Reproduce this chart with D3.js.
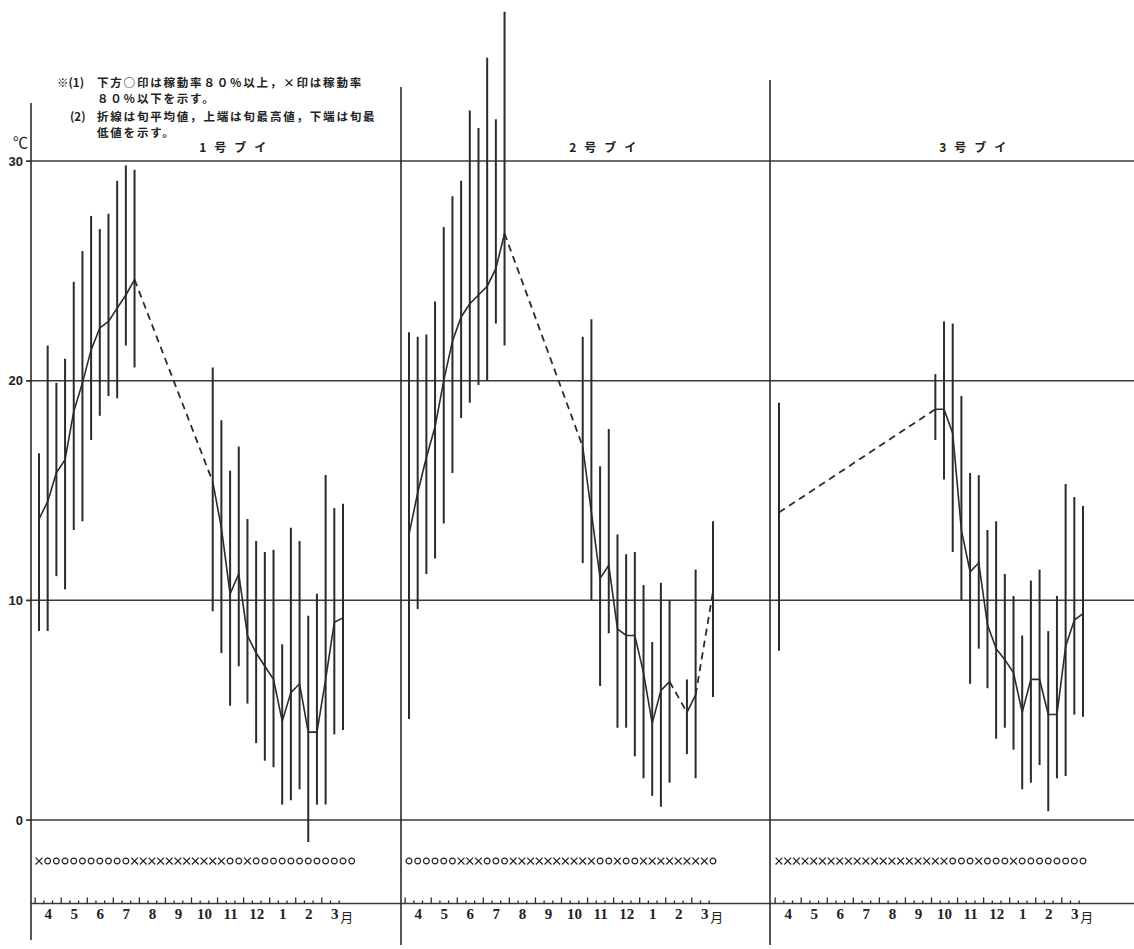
<!DOCTYPE html>
<html>
<head>
<meta charset="utf-8">
<script src="https://cdn.jsdelivr.net/npm/d3@7"></script>
<style>
body { margin: 0; background: #fff; }
svg { display: block; }
</style>
</head>
<body>
<div id="chart"></div>
<script>
var months = ['4', '5', '6', '7', '8', '9', '10', '11', '12', '1', '2', '3'];
var buoyNames = ['1号ブイ', '2号ブイ', '3号ブイ'];
var yTicks = [0, 10, 20, 30];
var N = null;

// 旬最高値 / 旬最低値 / 旬平均値 (4月上旬 .. 3月下旬)
var buoy1Max  = [16.7, 21.6, 19.9, 21.0, 24.5, 25.9, 27.5, 26.9, 27.6, 29.1, 29.8, 29.6, N, N, N, N, N, N, N, N, 20.6, 18.2, 15.9, 17.0, 13.7, 12.7, 12.2, 12.3, 8.0, 13.3, 12.7, 9.3, 10.3, 15.7, 14.2, 14.4];
var buoy1Min  = [8.6, 8.6, 11.1, 10.5, 13.2, 13.6, 17.3, 18.4, 19.3, 19.2, 21.6, 20.6, N, N, N, N, N, N, N, N, 9.5, 7.6, 5.2, 7.0, 5.3, 3.5, 2.7, 2.4, 0.7, 0.9, 1.4, -1.0, 0.7, 0.7, 3.9, 4.1];
var buoy1Mean = [13.7, 14.5, 15.8, 16.4, 18.6, 19.9, 21.4, 22.4, 22.7, 23.3, 23.9, 24.6, N, N, N, N, N, N, N, N, 15.4, 13.3, 10.3, 11.2, 8.4, 7.6, 7.0, 6.4, 4.5, 5.8, 6.2, 4.0, 4.0, 6.4, 9.0, 9.2];
var buoy1Rate = '×○○○○○○○○○○×××××××××××○○×○○○○○○○○○○○○';

var buoy2Max  = [22.2, 22.0, 22.1, 23.6, 27.0, 28.4, 29.1, 32.3, 31.5, 34.7, 31.9, 36.8, N, N, N, N, N, N, N, N, 22.0, 22.8, 16.1, 17.8, 13.0, 12.1, 12.2, 10.7, 8.1, 10.8, 10.0, N, 6.4, 11.4, N, 13.6];
var buoy2Min  = [4.6, 9.6, 11.2, 11.9, 13.5, 15.8, 18.3, 19.0, 19.8, 20.0, 22.6, 21.6, N, N, N, N, N, N, N, N, 11.7, 10.0, 6.1, 8.5, 4.2, 4.2, 2.9, 1.9, 1.1, 0.6, 1.7, N, 3.0, 1.9, N, 5.6];
var buoy2Mean = [13.0, 14.9, 16.5, 17.9, 20.0, 21.8, 22.9, 23.5, 23.9, 24.3, 25.1, 26.7, N, N, N, N, N, N, N, N, 17.0, 14.0, 11.0, 11.6, 8.7, 8.4, 8.4, 6.7, 4.4, 5.9, 6.3, N, 4.9, 5.7, N, 10.4];
var buoy2Rate = '○○○○○○×××○○○××××××××××○○×○○××××××××○';

var buoy3Max  = [19.0, N, N, N, N, N, N, N, N, N, N, N, N, N, N, N, N, N, 20.3, 22.7, 22.6, 19.3, 15.8, 15.7, 13.2, 13.6, 11.2, 10.2, 8.4, 10.9, 11.4, 8.6, 10.2, 15.3, 14.7, 14.3];
var buoy3Min  = [7.7, N, N, N, N, N, N, N, N, N, N, N, N, N, N, N, N, N, 17.3, 15.5, 12.2, 10.0, 6.2, 7.8, 6.0, 3.7, 4.2, 3.2, 1.4, 1.7, 2.5, 0.4, 1.9, 2.0, 4.8, 4.7];
var buoy3Mean = [14.0, N, N, N, N, N, N, N, N, N, N, N, N, N, N, N, N, N, 18.7, 18.7, 17.6, 13.2, 11.3, 11.7, 8.9, 7.8, 7.3, 6.7, 4.9, 6.4, 6.4, 4.8, 4.8, 7.9, 9.1, 9.4];
var buoy3Rate = '××××××××××××××××××××○○○×○○○×○○○○○○○○';

var notes = [
    ['※(1)', '下方○印は稼動率８０％以上，×印は稼動率'],
    ['', '８０％以下を示す。'],
    ['(2)', '折線は旬平均値，上端は旬最高値，下端は旬最'],
    ['', '低値を示す。']
];

var buoys = [
    { name: buoyNames[0], max: buoy1Max, min: buoy1Min, mean: buoy1Mean, rate: buoy1Rate },
    { name: buoyNames[1], max: buoy2Max, min: buoy2Min, mean: buoy2Mean, rate: buoy2Rate },
    { name: buoyNames[2], max: buoy3Max, min: buoy3Min, mean: buoy3Mean, rate: buoy3Rate }
];

var width = 1134, height = 949;
var ink = '#2b2b2b';
var jpFont = '"Noto Sans CJK JP", sans-serif';

var svg = d3.select('#chart').append('svg')
    .attr('width', width)
    .attr('height', height);

svg.append('rect').attr('width', width).attr('height', height).attr('fill', '#fff');

var y = d3.scaleLinear().domain([0, 30]).range([820, 161]);
var axisY = y(-3.8), markY = y(-1.87);
var firstBar = [39, 409, 779];

function xScale(p) {
    return d3.scaleLinear().domain([0, 35]).range([firstBar[p], firstBar[p] + 304]);
}

// grid lines across all three panels
svg.append('g').selectAll('line')
    .data(yTicks)
    .enter().append('line')
    .attr('x1', 26).attr('x2', width)
    .attr('y1', function (d) { return y(d); })
    .attr('y2', function (d) { return y(d); })
    .attr('stroke', '#3a3a3a')
    .attr('stroke-width', 1.5);

svg.append('line')
    .attr('x1', 31).attr('x2', width)
    .attr('y1', axisY).attr('y2', axisY)
    .attr('stroke', '#3a3a3a').attr('stroke-width', 1.5);

// left axis and panel dividers
[[31, 103, 940], [401, 87, 945], [770, 80, 945]].forEach(function (v) {
    svg.append('line')
        .attr('x1', v[0]).attr('x2', v[0])
        .attr('y1', v[1]).attr('y2', v[2])
        .attr('stroke', ink).attr('stroke-width', 1.6);
});

var yAxis = svg.append('g')
    .attr('transform', 'translate(31,0)')
    .call(d3.axisLeft(y).tickValues(yTicks).tickSize(4).tickPadding(4));
yAxis.select('.domain').remove();
yAxis.selectAll('line').attr('stroke', ink);
yAxis.selectAll('text')
    .attr('font-family', '"Liberation Sans", sans-serif')
    .attr('font-size', 13)
    .attr('font-weight', 'bold')
    .attr('fill', '#222');

svg.append('text')
    .attr('x', 13).attr('y', 148)
    .attr('font-family', jpFont)
    .attr('font-size', 15)
    .attr('fill', '#222')
    .text('℃');

// notes
var noteG = svg.append('g')
    .attr('font-family', jpFont)
    .attr('font-size', 11.5)
    .attr('font-weight', 'bold')
    .attr('fill', '#222');
var noteY = [87, 103, 121, 137];
notes.forEach(function (n, i) {
    if (n[0]) {
        noteG.append('text')
            .attr('x', n[0] === '※(1)' ? 57 : 70)
            .attr('y', noteY[i])
            .text(n[0]);
    }
    noteG.append('text')
        .attr('x', 97)
        .attr('y', noteY[i])
        .style('letter-spacing', '1.8px')
        .text(n[1]);
});

buoys.forEach(function (b, p) {
    var x = xScale(p);
    var g = svg.append('g');
    var idx = d3.range(36);

    g.append('text')
        .attr('x', x(22.3) + 4)
        .attr('y', 152)
        .attr('text-anchor', 'middle')
        .attr('font-family', jpFont)
        .attr('font-size', 12)
        .attr('font-weight', 'bold')
        .attr('fill', '#222')
        .style('letter-spacing', '8px')
        .text(b.name);

    // max-min bars
    g.selectAll('line.bar')
        .data(idx.filter(function (i) { return b.max[i] !== null; }))
        .enter().append('line')
        .attr('class', 'bar')
        .attr('x1', function (i) { return x(i); })
        .attr('x2', function (i) { return x(i); })
        .attr('y1', function (i) { return y(b.max[i]); })
        .attr('y2', function (i) { return y(b.min[i]); })
        .attr('stroke', ink)
        .attr('stroke-width', 2);

    // mean line, solid where continuous
    var line = d3.line()
        .defined(function (i) { return b.mean[i] !== null; })
        .x(function (i) { return x(i); })
        .y(function (i) { return y(b.mean[i]); });

    g.append('path')
        .datum(idx)
        .attr('d', line)
        .attr('fill', 'none')
        .attr('stroke', ink)
        .attr('stroke-width', 1.6);

    // dashed across missing periods
    var known = idx.filter(function (i) { return b.mean[i] !== null; });
    var gaps = [];
    for (var k = 1; k < known.length; k++) {
        if (known[k] - known[k - 1] > 1) gaps.push([known[k - 1], known[k]]);
    }
    g.selectAll('line.gap')
        .data(gaps)
        .enter().append('line')
        .attr('class', 'gap')
        .attr('x1', function (d) { return x(d[0]); })
        .attr('y1', function (d) { return y(b.mean[d[0]]); })
        .attr('x2', function (d) { return x(d[1]); })
        .attr('y2', function (d) { return y(b.mean[d[1]]); })
        .attr('stroke', ink)
        .attr('stroke-width', 1.8)
        .attr('stroke-dasharray', '7,5');

    // operating-rate marks
    var rate = Array.from(b.rate);
    g.selectAll('path.mark')
        .data(rate)
        .enter().append('path')
        .attr('class', 'mark')
        .attr('transform', function (d, i) { return 'translate(' + x(i) + ',' + markY + ')'; })
        .attr('d', function (d) {
            return d3.symbol(d === '○' ? d3.symbolCircle : d3.symbolTimes, d === '○' ? 26 : 32)();
        })
        .attr('fill', 'none')
        .attr('stroke', '#222')
        .attr('stroke-width', 1.2);

    // ten-day ticks on the bottom axis
    var bounds = d3.range(37).map(function (k) { return k - 0.5; });
    var minor = g.append('g')
        .attr('transform', 'translate(0,' + axisY + ')')
        .call(d3.axisBottom(x).tickValues(bounds.filter(function (d, k) { return k % 3 !== 0; }))
            .tickSize(-3).tickFormat(''));
    var major = g.append('g')
        .attr('transform', 'translate(0,' + axisY + ')')
        .call(d3.axisBottom(x).tickValues(bounds.filter(function (d, k) { return k % 3 === 0 && k < 36; }))
            .tickSize(-6).tickFormat(''));
    [minor, major].forEach(function (a) {
        a.select('.domain').remove();
        a.selectAll('line').attr('stroke', ink).attr('stroke-width', 1.3);
    });

    var labels = g.append('g')
        .attr('transform', 'translate(0,' + axisY + ')')
        .call(d3.axisBottom(x).tickValues(months.map(function (m, i) { return 3 * i + 1; }))
            .tickSize(0).tickPadding(5)
            .tickFormat(function (d, i) { return months[i]; }));
    labels.select('.domain').remove();
    labels.selectAll('text')
        .attr('font-family', '"Liberation Serif", serif')
        .attr('font-size', 15)
        .attr('font-weight', 'bold')
        .attr('fill', '#222');

    g.append('text')
        .attr('x', x(34) + 6)
        .attr('y', axisY + 19)
        .attr('font-family', jpFont)
        .attr('font-size', 13)
        .attr('fill', '#222')
        .text('月');
});
</script>
</body>
</html>
